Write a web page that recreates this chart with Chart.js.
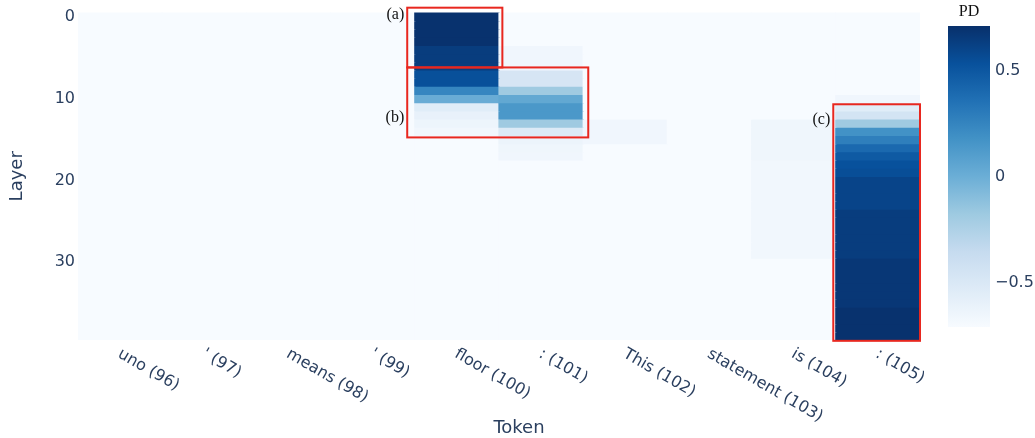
<!DOCTYPE html>
<html>
<head>
<meta charset="utf-8">
<script src="https://cdn.jsdelivr.net/npm/chart.js@4.4.1/dist/chart.umd.min.js"></script>
<style>
  body { margin: 0; background: #fff; }
  #wrap { position: relative; width: 1035px; height: 438px; }
  #heat { position: absolute; left: 0; top: 0; }
  #bar { position: absolute; left: 940px; top: 0; }
</style>
</head>
<body>
<div id="wrap">
  <canvas id="heat" width="1035" height="438"></canvas>
  <canvas id="bar" width="95" height="438"></canvas>
</div>
<script>
const tokens = ['uno (96)', "' (97)", 'means (98)', "' (99)", 'floor (100)', ': (101)', 'This (102)', 'statement (103)', 'is (104)', ': (105)'];
const layerCount = 40;
const layerTicks = [0, 10, 20, 30];
const pdTicks = [-0.5, 0, 0.5];
const pdRange = [-0.71, 0.71];

// PD per layer (0..39) for each token
const pdUno96 = [
  -0.71, -0.71, -0.71, -0.71, -0.71, -0.71, -0.71, -0.71, -0.71, -0.71, -0.71, -0.71, -0.71, -0.71, -0.71, -0.71, -0.71, -0.71, -0.71, -0.71,
  -0.71, -0.71, -0.71, -0.71, -0.71, -0.71, -0.71, -0.71, -0.71, -0.71, -0.71, -0.71, -0.71, -0.71, -0.71, -0.71, -0.71, -0.71, -0.71, -0.71];
const pdQuote97 = [
  -0.71, -0.71, -0.71, -0.71, -0.71, -0.71, -0.71, -0.71, -0.71, -0.71, -0.71, -0.71, -0.71, -0.71, -0.71, -0.71, -0.71, -0.71, -0.71, -0.71,
  -0.71, -0.71, -0.71, -0.71, -0.71, -0.71, -0.71, -0.71, -0.71, -0.71, -0.71, -0.71, -0.71, -0.71, -0.71, -0.71, -0.71, -0.71, -0.71, -0.71];
const pdMeans98 = [
  -0.71, -0.71, -0.71, -0.71, -0.71, -0.71, -0.71, -0.71, -0.71, -0.71, -0.71, -0.71, -0.71, -0.71, -0.71, -0.71, -0.71, -0.71, -0.71, -0.71,
  -0.71, -0.71, -0.71, -0.71, -0.71, -0.71, -0.71, -0.71, -0.71, -0.71, -0.71, -0.71, -0.71, -0.71, -0.71, -0.71, -0.71, -0.71, -0.71, -0.71];
const pdQuote99 = [
  -0.71, -0.71, -0.71, -0.71, -0.71, -0.71, -0.71, -0.71, -0.71, -0.71, -0.71, -0.71, -0.71, -0.71, -0.71, -0.71, -0.71, -0.71, -0.71, -0.71,
  -0.71, -0.71, -0.71, -0.71, -0.71, -0.71, -0.71, -0.71, -0.71, -0.71, -0.71, -0.71, -0.71, -0.71, -0.71, -0.71, -0.71, -0.71, -0.71, -0.71];
const pdFloor100 = [
  0.70, 0.70, 0.70, 0.70, 0.64, 0.64, 0.64, 0.54, 0.54, 0.24, 0.01, -0.55, -0.60, -0.64, -0.67, -0.71, -0.71, -0.71, -0.71, -0.71,
  -0.71, -0.71, -0.71, -0.71, -0.71, -0.71, -0.71, -0.71, -0.71, -0.71, -0.71, -0.71, -0.71, -0.71, -0.71, -0.71, -0.71, -0.71, -0.71, -0.71];
const pdColon101 = [
  -0.71, -0.71, -0.71, -0.71, -0.66, -0.66, -0.66, -0.47, -0.47, -0.18, 0.04, 0.14, 0.14, -0.18, -0.52, -0.63, -0.65, -0.66, -0.71, -0.71,
  -0.71, -0.71, -0.71, -0.71, -0.71, -0.71, -0.71, -0.71, -0.71, -0.71, -0.71, -0.71, -0.71, -0.71, -0.71, -0.71, -0.71, -0.71, -0.71, -0.71];
const pdThis102 = [
  -0.71, -0.71, -0.71, -0.71, -0.71, -0.71, -0.71, -0.71, -0.71, -0.71, -0.71, -0.71, -0.71, -0.66, -0.66, -0.66, -0.71, -0.71, -0.71, -0.71,
  -0.71, -0.71, -0.71, -0.71, -0.71, -0.71, -0.71, -0.71, -0.71, -0.71, -0.71, -0.71, -0.71, -0.71, -0.71, -0.71, -0.71, -0.71, -0.71, -0.71];
const pdStatement103 = [
  -0.71, -0.71, -0.71, -0.71, -0.71, -0.71, -0.71, -0.71, -0.71, -0.71, -0.71, -0.71, -0.71, -0.71, -0.71, -0.71, -0.71, -0.71, -0.71, -0.71,
  -0.71, -0.71, -0.71, -0.71, -0.71, -0.71, -0.71, -0.71, -0.71, -0.71, -0.71, -0.71, -0.71, -0.71, -0.71, -0.71, -0.71, -0.71, -0.71, -0.71];
const pdIs104 = [
  -0.71, -0.71, -0.71, -0.71, -0.71, -0.71, -0.71, -0.71, -0.71, -0.71, -0.71, -0.71, -0.71, -0.65, -0.65, -0.65, -0.65, -0.65, -0.67, -0.67,
  -0.67, -0.67, -0.67, -0.67, -0.67, -0.67, -0.67, -0.67, -0.67, -0.67, -0.71, -0.71, -0.71, -0.71, -0.71, -0.71, -0.71, -0.71, -0.71, -0.71];
const pdColon105 = [
  -0.71, -0.71, -0.71, -0.71, -0.71, -0.71, -0.71, -0.71, -0.71, -0.71, -0.66, -0.55, -0.45, -0.18, 0.18, 0.28, 0.40, 0.48, 0.53, 0.55,
  0.60, 0.60, 0.60, 0.60, 0.64, 0.64, 0.64, 0.64, 0.64, 0.64, 0.67, 0.67, 0.67, 0.67, 0.67, 0.67, 0.70, 0.70, 0.70, 0.70];

const pdByToken = [pdUno96, pdQuote97, pdMeans98, pdQuote99, pdFloor100, pdColon101, pdThis102, pdStatement103, pdIs104, pdColon105];

// highlighted regions, in token-index / layer units
const boxes = [
  { label: '(a)', x0: 3.41, x1: 4.54, y0: -1.1, y1: 6.2, labelY: -0.25 },
  { label: '(b)', x0: 3.41, x1: 5.56, y0: 6.2, y1: 14.75, labelY: 12.4 },
  { label: '(c)', x0: 8.47, x1: 9.5, y0: 10.7, y1: 39.6, labelY: 12.6 }
];

const blueStops = [
  [0, [247, 251, 255]], [0.125, [222, 235, 247]], [0.25, [198, 219, 239]],
  [0.375, [158, 202, 225]], [0.5, [107, 174, 214]], [0.625, [66, 146, 198]],
  [0.75, [33, 113, 181]], [0.875, [8, 81, 156]], [1, [8, 48, 107]]
];

function blues(v) {
  let t = (v - pdRange[0]) / (pdRange[1] - pdRange[0]);
  t = Math.max(0, Math.min(1, t));
  for (let i = 1; i < blueStops.length; i++) {
    if (t <= blueStops[i][0]) {
      const a = blueStops[i - 1], b = blueStops[i];
      const f = (t - a[0]) / (b[0] - a[0]);
      const c = a[1].map((ch, k) => Math.round(ch + (b[1][k] - ch) * f));
      return 'rgb(' + c.join(',') + ')';
    }
  }
  return 'rgb(8,48,107)';
}

const axisColor = '#2a3f5f';
const sans = "'DejaVu Sans', Verdana, sans-serif";
const serif = "'Liberation Serif', 'Times New Roman', serif";

const datasets = [];
for (let l = 0; l < layerCount; l++) {
  datasets.push({
    label: 'Layer ' + l,
    data: tokens.map(() => [l - 0.5, l + 0.5]),
    backgroundColor: tokens.map((t, i) => blues(pdByToken[i][l])),
    borderWidth: 0,
    inflateAmount: 0.6,
    grouped: false,
    barPercentage: 1,
    categoryPercentage: 1
  });
}

const overlay = {
  id: 'overlay',
  afterDatasetsDraw(chart) {
    const { ctx, scales: { x, y }, chartArea } = chart;
    ctx.save();
    // red boxes + labels
    boxes.forEach(b => {
      const l = x.getPixelForValue(b.x0), r = x.getPixelForValue(b.x1);
      const t = y.getPixelForValue(b.y0), bt = y.getPixelForValue(b.y1);
      ctx.strokeStyle = '#e8271f';
      ctx.lineWidth = 2;
      ctx.strokeRect(l, t, r - l, bt - t);
      ctx.fillStyle = '#111';
      ctx.font = '16px ' + serif;
      ctx.textAlign = 'right';
      ctx.textBaseline = 'middle';
      ctx.fillText(b.label, l - 3, y.getPixelForValue(b.labelY));
    });
    // rotated token labels
    ctx.fillStyle = axisColor;
    ctx.font = '16px ' + sans;
    ctx.textAlign = 'left';
    ctx.textBaseline = 'middle';
    tokens.forEach((tok, i) => {
      ctx.save();
      ctx.translate(x.getPixelForValue(i) - 1, chartArea.bottom + 13);
      ctx.rotate(Math.PI / 6);
      ctx.fillText(tok, 0, 0);
      ctx.restore();
    });
    // x axis title
    ctx.font = '18px ' + sans;
    ctx.textAlign = 'center';
    ctx.textBaseline = 'middle';
    ctx.fillText('Token', (chartArea.left + chartArea.right) / 2 + 20, 428);
    ctx.restore();
  }
};

new Chart(document.getElementById('heat').getContext('2d'), {
  type: 'bar',
  data: { labels: tokens, datasets: datasets },
  options: {
    responsive: false,
    animation: false,
    layout: { padding: { left: 0, top: 12, right: 115, bottom: 0 } },
    plugins: { legend: { display: false }, tooltip: { enabled: false } },
    scales: {
      x: {
        type: 'category',
        offset: true,
        grid: { display: false, drawTicks: false },
        border: { display: false },
        ticks: { display: false },
        afterFit: s => { s.height = 98; }
      },
      y: {
        type: 'linear',
        reverse: true,
        min: -0.5,
        max: 39.5,
        grid: { display: false, drawTicks: false },
        border: { display: false },
        afterBuildTicks: s => { s.ticks = layerTicks.map(v => ({ value: v })); },
        afterFit: s => { s.width = 78; },
        ticks: { color: axisColor, font: { family: sans, size: 16 }, padding: 3 },
        title: { display: true, text: 'Layer', color: axisColor, font: { family: sans, size: 18 }, padding: { top: 7, bottom: 0 } }
      }
    }
  },
  plugins: [overlay]
});

const pdTitle = {
  id: 'pdTitle',
  afterDraw(chart) {
    const { ctx, chartArea } = chart;
    ctx.save();
    ctx.fillStyle = '#111';
    ctx.font = '16px ' + serif;
    ctx.textAlign = 'center';
    ctx.textBaseline = 'middle';
    ctx.fillText('PD', (chartArea.left + chartArea.right) / 2, 12);
    ctx.restore();
  }
};

new Chart(document.getElementById('bar').getContext('2d'), {
  type: 'bar',
  data: {
    labels: ['PD'],
    datasets: [{
      data: [pdRange],
      borderWidth: 0,
      barPercentage: 1,
      categoryPercentage: 1,
      backgroundColor: c => {
        const { ctx, chartArea, scales } = c.chart;
        if (!chartArea) return null;
        const g = ctx.createLinearGradient(0, scales.y.getPixelForValue(pdRange[0]), 0, scales.y.getPixelForValue(pdRange[1]));
        blueStops.forEach(s => g.addColorStop(s[0], 'rgb(' + s[1].join(',') + ')'));
        return g;
      }
    }]
  },
  options: {
    responsive: false,
    animation: false,
    layout: { padding: { left: 8, top: 26, right: 0, bottom: 111 } },
    plugins: { legend: { display: false }, tooltip: { enabled: false } },
    scales: {
      x: { display: false },
      y: {
        position: 'right',
        min: pdRange[0],
        max: pdRange[1],
        grid: { display: false, drawTicks: false },
        border: { display: false },
        afterBuildTicks: s => { s.ticks = pdTicks.map(v => ({ value: v })); },
        afterFit: s => { s.width = 45; },
        ticks: {
          color: axisColor,
          font: { family: sans, size: 16 },
          padding: 5,
          callback: v => (v < 0 ? '\u2212' + Math.abs(v) : String(v))
        }
      }
    }
  },
  plugins: [pdTitle]
});
</script>
</body>
</html>
